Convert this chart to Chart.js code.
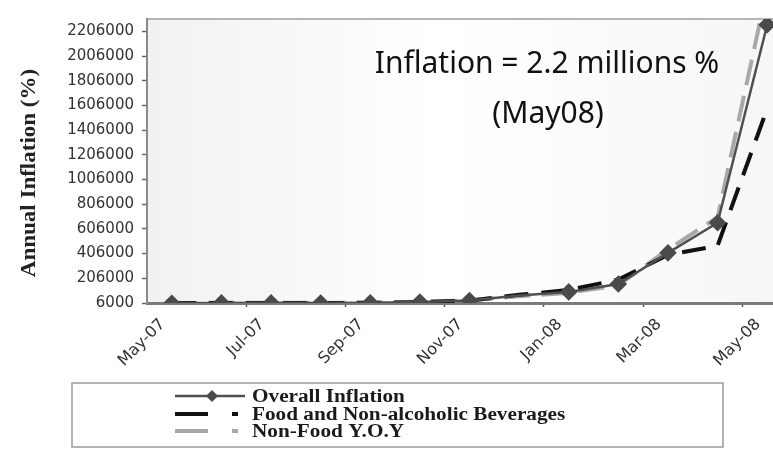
<!DOCTYPE html>
<html>
<head>
<meta charset="utf-8">
<script src="https://cdn.jsdelivr.net/npm/chart.js@4.4.1/dist/chart.umd.min.js"></script>
<style>
  html, body { margin: 0; padding: 0; background: #fff; overflow: hidden; }
  #wrap { position: relative; width: 830px; height: 449px; }
</style>
</head>
<body>
<div id="wrap"><canvas id="chart"></canvas></div>
<script>
// data (annual inflation, %)
const months = ['May-07', 'Jun-07', 'Jul-07', 'Aug-07', 'Sep-07', 'Oct-07', 'Nov-07',
    'Dec-07', 'Jan-08', 'Feb-08', 'Mar-08', 'Apr-08', 'May-08'];
const overall = [4500, 7000, 7600, 6600, 8000, 14800, 26500, 66000, 96000, 160000, 412000, 656000, 2260000];
const food = [4000, 6500, 7000, 6000, 7500, 13000, 25000, 72000, 112000, 195000, 395000, 470000, 1580000];
const nonFood = [5000, 8000, 8000, 7000, 8500, 15500, 28000, 60000, 88000, 150000, 440000, 700000, 2550000];
const yTicks = [6000, 206000, 406000, 606000, 806000, 1006000, 1206000, 1406000,
    1606000, 1806000, 2006000, 2206000];
const yMin = 6000, yMax = 2306000;
const yTitle = 'Annual Inflation (%)';
const noteLines = ['Inflation = 2.2 millions %', '(May08)'];
const noMarker = ['Dec-07'];

const chartDecor = {
    id: 'chartDecor',
    beforeDraw(chart) {
        const { ctx, chartArea: a } = chart;
        ctx.save();
        const g = ctx.createLinearGradient(a.left, 0, a.right, 0);
        g.addColorStop(0, '#f1f1f1');
        g.addColorStop(0.45, '#ffffff');
        g.addColorStop(1, '#f6f6f6');
        ctx.fillStyle = g;
        ctx.fillRect(a.left, a.top, a.right - a.left, a.bottom - a.top);
        ctx.strokeStyle = '#b5b5b5';
        ctx.lineWidth = 2;
        ctx.beginPath();
        ctx.moveTo(a.left, a.top);
        ctx.lineTo(a.right, a.top);
        ctx.lineTo(a.right, a.bottom);
        ctx.stroke();
        ctx.restore();
    },
    afterDraw(chart) {
        const { ctx } = chart;
        ctx.save();

        // y axis title (the source picture is a little stretched)
        ctx.translate(30, 173);
        ctx.rotate(-Math.PI / 2);
        ctx.scale(1.15, 1);
        ctx.font = 'bold 20px "Liberation Serif"';
        ctx.fillStyle = '#222';
        ctx.textAlign = 'center';
        ctx.textBaseline = 'middle';
        ctx.fillText(yTitle, 0, 0);
        ctx.setTransform(1, 0, 0, 1, 0, 0);

        // note
        ctx.font = '30px "Noto Sans"';
        ctx.fillStyle = '#111';
        ctx.textAlign = 'center';
        ctx.textBaseline = 'alphabetic';
        ctx.fillText(noteLines[0], 547, 73);
        ctx.fillText(noteLines[1], 548, 123);

        // legend box
        ctx.strokeStyle = '#9a9a9a';
        ctx.lineWidth = 1.5;
        ctx.strokeRect(72, 383, 651, 64);

        const rows = [396, 414, 431];
        chart.data.datasets.forEach((ds, i) => {
            const y = rows[i];
            ctx.strokeStyle = ds.borderColor;
            ctx.lineWidth = ds.borderWidth;
            ctx.setLineDash(ds.borderDash && ds.borderDash.length ? [33, 24, 6, 100] : []);
            ctx.beginPath();
            ctx.moveTo(175, y);
            ctx.lineTo(245, y);
            ctx.stroke();
            ctx.setLineDash([]);
            if (ds.pointStyle === 'rectRot') {
                ctx.fillStyle = ds.pointBackgroundColor;
                ctx.beginPath();
                ctx.moveTo(212, y - 6);
                ctx.lineTo(218, y);
                ctx.lineTo(212, y + 6);
                ctx.lineTo(206, y);
                ctx.closePath();
                ctx.fill();
            }
            ctx.save();
            ctx.translate(252, y + 1);
            ctx.scale(1.18, 1);
            ctx.font = 'bold 18px "Liberation Serif"';
            ctx.fillStyle = '#1a1a1a';
            ctx.textAlign = 'left';
            ctx.textBaseline = 'middle';
            ctx.fillText(ds.label, 0, 0);
            ctx.restore();
        });
        ctx.restore();
    }
};

new Chart(document.getElementById('chart'), {
    type: 'line',
    data: {
        labels: months,
        datasets: [
            {
                label: 'Overall Inflation', data: overall,
                borderColor: '#4f4f4f', borderWidth: 2.5, tension: 0,
                pointStyle: 'rectRot', pointBackgroundColor: '#4a4a4a', pointBorderColor: '#4a4a4a',
                pointRadius: ctx => noMarker.includes(months[ctx.dataIndex]) ? 0 : 7
            },
            {
                label: 'Food and Non-alcoholic Beverages', data: food,
                borderColor: '#111111', borderWidth: 4, borderDash: [24, 13], tension: 0,
                pointRadius: 0
            },
            {
                label: 'Non-Food Y.O.Y', data: nonFood,
                borderColor: '#a8a8a8', borderWidth: 4, borderDash: [26, 11], tension: 0,
                pointRadius: 0
            }
        ]
    },
    options: {
        responsive: true, maintainAspectRatio: false, animation: false,
        layout: { padding: { top: 19, right: 38, left: 0, bottom: 0 } },
        plugins: { legend: { display: false }, tooltip: { enabled: false } },
        scales: {
            x: {
                offset: true,
                afterFit: s => { s.height = 146; },
                border: { color: '#7a7a7a', width: 3 },
                grid: {
                    offset: true, drawOnChartArea: false, tickLength: 4, tickWidth: 1.5,
                    tickColor: ctx => ctx.index % 2 === 0 && ctx.index > 0 ? '#555' : 'rgba(0,0,0,0)'
                },
                ticks: {
                    autoSkip: false, minRotation: 45, maxRotation: 45, padding: 8, labelOffset: -9,
                    color: '#333', font: { family: 'DejaVu Sans', size: 16 },
                    callback: (v, i) => i % 2 === 0 ? months[i] : ''
                }
            },
            y: {
                min: yMin, max: yMax,
                afterFit: s => { s.width = 147; },
                afterBuildTicks: s => { s.ticks = yTicks.map(v => ({ value: v })); },
                border: { color: '#8a8a8a', width: 2 },
                grid: { drawOnChartArea: false, tickLength: 5, tickColor: '#666', tickWidth: 1.5 },
                ticks: {
                    padding: 8, color: '#333', font: { family: 'DejaVu Sans', size: 15 },
                    callback: v => String(v)
                }
            }
        }
    },
    plugins: [chartDecor]
});
</script>
</body>
</html>
